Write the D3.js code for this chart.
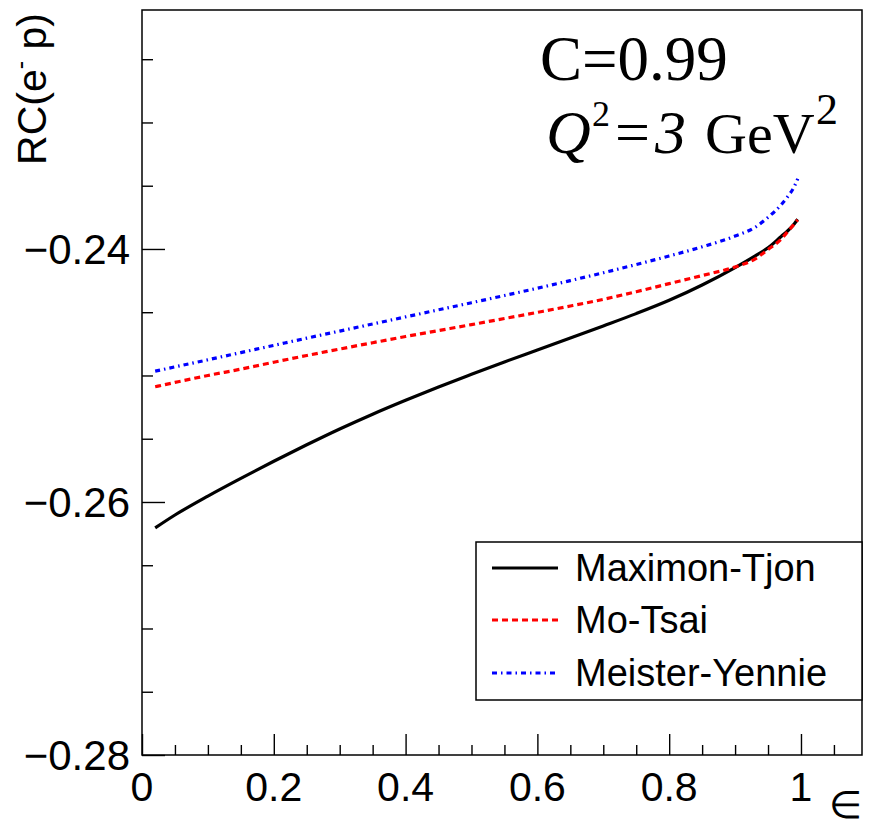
<!DOCTYPE html>
<html>
<head>
<meta charset="utf-8">
<script src="https://cdn.jsdelivr.net/npm/d3@7"></script>
<style>
  html, body { margin: 0; padding: 0; background: #fff; }
  svg { display: block; }
  text { font-family: "Liberation Sans", Arial, Helvetica, sans-serif; }
  text.serif { font-family: "Liberation Serif", "Times New Roman", serif; }
</style>
</head>
<body>
<script>
// Epsilon sampling points shared by all three calculations
const epsilon = [0.02, 0.05, 0.1, 0.15, 0.2, 0.25, 0.3, 0.35, 0.4, 0.45, 0.5, 0.55, 0.6,
                 0.65, 0.7, 0.75, 0.8, 0.85, 0.9, 0.93, 0.95, 0.97, 0.98, 0.99, 0.995];

// Radiative correction RC(e- p), C = 0.99, Q^2 = 3 GeV^2
const maximonTjon = [-0.26205, -0.26103, -0.25953, -0.25813, -0.25678, -0.25548, -0.25423,
                     -0.25306, -0.25196, -0.25091, -0.24991, -0.24893, -0.24798, -0.24703,
                     -0.24608, -0.24511, -0.24406, -0.24285, -0.24147, -0.24056, -0.23991,
                     -0.23901, -0.23856, -0.23800, -0.23765];
const moTsai = [-0.25089, -0.25055, -0.25000, -0.24950, -0.24895, -0.24842, -0.24791,
                -0.24741, -0.24692, -0.24645, -0.24598, -0.24550, -0.24501, -0.24451,
                -0.24398, -0.24338, -0.24274, -0.24210, -0.24142, -0.24080, -0.24004,
                -0.23922, -0.23862, -0.23802, -0.23770];
const meisterYennie = [-0.24966, -0.24932, -0.24876, -0.24819, -0.24762, -0.24705, -0.24649,
                       -0.24593, -0.24537, -0.24481, -0.24425, -0.24368, -0.24310, -0.24250,
                       -0.24188, -0.24123, -0.24055, -0.23983, -0.23898, -0.23830, -0.23750,
                       -0.23650, -0.23585, -0.23505, -0.23445];

const seriesNames = ["Maximon-Tjon", "Mo-Tsai", "Meister-Yennie"];
const seriesColors = ["#000000", "#ff0000", "#0000ff"];
const seriesDash = [null, "6,4", "5,4,1.5,4"];
const seriesValues = [maximonTjon, moTsai, meisterYennie];

const xTickValues = [0, 0.2, 0.4, 0.6, 0.8, 1];
const xTickLabels = ["0", "0.2", "0.4", "0.6", "0.8", "1"];
const yTickValues = [-0.28, -0.26, -0.24];
const yTickLabels = ["\u22120.28", "\u22120.26", "\u22120.24"];

const W = 869, H = 828;
const frame = { left: 142, right: 862, top: 10, bottom: 755 };

const x = d3.scaleLinear().domain([0, 1.0926]).range([frame.left, frame.right]);
const y = d3.scaleLinear().domain([-0.28, -0.22111]).range([frame.bottom, frame.top]);

const svg = d3.select("body").append("svg")
  .attr("width", W).attr("height", H);

// Curves
const line = d3.line()
  .x(d => x(d[0]))
  .y(d => y(d[1]))
  .curve(d3.curveMonotoneX);

const curves = svg.append("g");
seriesValues.forEach((vals, i) => {
  curves.append("path")
    .datum(epsilon.map((e, k) => [e, vals[k]]))
    .attr("d", line)
    .attr("fill", "none")
    .attr("stroke", seriesColors[i])
    .attr("stroke-width", 3.2)
    .attr("stroke-dasharray", seriesDash[i]);
});

// Frame
svg.append("rect")
  .attr("x", frame.left).attr("y", frame.top)
  .attr("width", frame.right - frame.left)
  .attr("height", frame.bottom - frame.top)
  .attr("fill", "none")
  .attr("stroke", "#000")
  .attr("stroke-width", 1.5);

// Bottom axis: ticks point inward, minor every 0.05
const xMinor = d3.range(0, 1.0926, 0.05).filter(v => !xTickValues.some(t => Math.abs(t - v) < 1e-6));
const xAxisMajor = d3.axisTop(x).tickValues(xTickValues).tickSize(21).tickFormat("");
const xAxisMinor = d3.axisTop(x).tickValues(xMinor).tickSize(10).tickFormat("");
[xAxisMajor, xAxisMinor].forEach(ax => {
  const g = svg.append("g").attr("transform", `translate(0,${frame.bottom})`).call(ax);
  g.select(".domain").remove();
  g.selectAll("line").attr("stroke", "#000").attr("stroke-width", 1.4);
});
svg.append("g").selectAll("text")
  .data(xTickValues)
  .join("text")
  .attr("x", d => x(d))
  .attr("y", 801)
  .attr("text-anchor", "middle")
  .attr("font-size", 41)
  .text((d, i) => xTickLabels[i]);

// Left axis: ticks point inward, minor every 0.005
const yMinor = d3.range(-0.28, -0.2211, 0.005).filter(v => !yTickValues.some(t => Math.abs(t - v) < 1e-6));
const yAxisMajor = d3.axisRight(y).tickValues(yTickValues).tickSize(23).tickFormat("");
const yAxisMinor = d3.axisRight(y).tickValues(yMinor).tickSize(11).tickFormat("");
[yAxisMajor, yAxisMinor].forEach(ax => {
  const g = svg.append("g").attr("transform", `translate(${frame.left},0)`).call(ax);
  g.select(".domain").remove();
  g.selectAll("line").attr("stroke", "#000").attr("stroke-width", 1.4);
});
svg.append("g").selectAll("text")
  .data(yTickValues)
  .join("text")
  .attr("x", 130)
  .attr("y", d => y(d) + 15)
  .attr("text-anchor", "end")
  .attr("font-size", 42)
  .text((d, i) => yTickLabels[i]);

// Axis titles
const yTitle = svg.append("text")
  .attr("transform", "translate(46,13) rotate(-90)")
  .attr("text-anchor", "end")
  .attr("font-size", 41);
yTitle.append("tspan").text("RC(e");
yTitle.append("tspan").attr("font-size", 25).attr("dy", -17).text("-");
yTitle.append("tspan").attr("dy", 17).text(" p)");

svg.append("text")
  .attr("x", 862).attr("y", 818)
  .attr("text-anchor", "end")
  .attr("font-size", 38)
  .text("\u2208");

// Annotation
svg.append("text")
  .attr("class", "serif")
  .attr("x", 540).attr("y", 80)
  .attr("font-size", 63)
  .text("C=0.99");

const ann = svg.append("text")
  .attr("class", "serif")
  .attr("y", 153)
  .attr("font-size", 62);
ann.append("tspan").attr("x", 546).attr("font-style", "italic").text("Q");
ann.append("tspan").attr("x", 592).attr("font-size", 36).attr("dy", -27).text("2");
ann.append("tspan").attr("x", 615).attr("dy", 27).text("=");
ann.append("tspan").attr("x", 655).attr("font-style", "italic").text("3");
ann.append("tspan").attr("x", 705).attr("font-size", 58).text("GeV");
ann.append("tspan").attr("x", 816).attr("font-size", 44).attr("dy", -29).text("2");

// Legend
const legend = { left: 476, right: 862, top: 542, bottom: 700 };
svg.append("rect")
  .attr("x", legend.left).attr("y", legend.top)
  .attr("width", legend.right - legend.left)
  .attr("height", legend.bottom - legend.top)
  .attr("fill", "#fff")
  .attr("stroke", "#000")
  .attr("stroke-width", 1.5);

const rowY = [568, 620, 673];
seriesNames.forEach((name, i) => {
  svg.append("line")
    .attr("x1", 492).attr("x2", 558)
    .attr("y1", rowY[i]).attr("y2", rowY[i])
    .attr("stroke", seriesColors[i])
    .attr("stroke-width", 3.2)
    .attr("stroke-dasharray", seriesDash[i]);
  svg.append("text")
    .attr("x", 575).attr("y", rowY[i] + 13)
    .attr("font-size", 38)
    .text(name);
});
</script>
</body>
</html>
